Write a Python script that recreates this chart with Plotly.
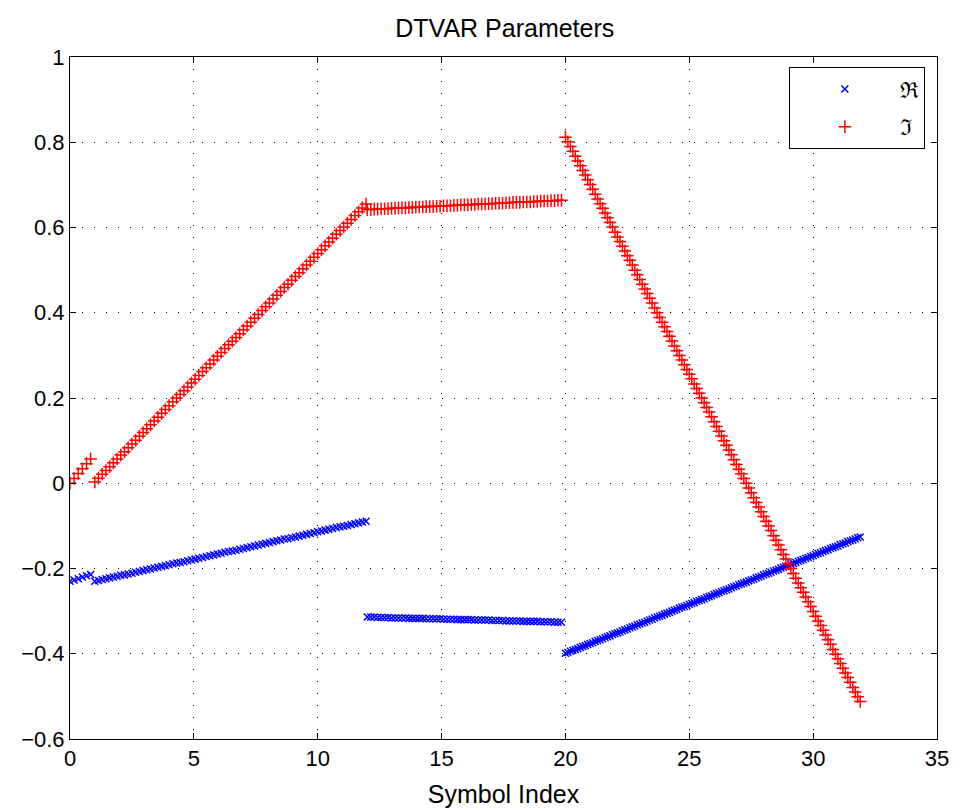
import plotly.graph_objects as go

# ---- data ----
x_seg_a = [0.0, 0.167, 0.333, 0.5, 0.667, 0.833]
x_seg_b = [1.00, 1.15, 1.30, 1.45, 1.60, 1.75, 1.90, 2.05, 2.20, 2.35, 2.50, 2.65, 2.80, 2.95,
           3.10, 3.25, 3.40, 3.55, 3.70, 3.85, 4.00, 4.15, 4.30, 4.45, 4.60, 4.75, 4.90, 5.05,
           5.20, 5.35, 5.50, 5.65, 5.80, 5.95, 6.10, 6.25, 6.40, 6.55, 6.70, 6.85, 7.00, 7.15,
           7.30, 7.45, 7.60, 7.75, 7.90, 8.05, 8.20, 8.35, 8.50, 8.65, 8.80, 8.95, 9.10, 9.25,
           9.40, 9.55, 9.70, 9.85, 10.00, 10.15, 10.30, 10.45, 10.60, 10.75, 10.90, 11.05,
           11.20, 11.35, 11.50, 11.65, 11.80, 11.95]
x_seg_c = [12.00, 12.14, 12.28, 12.42, 12.56, 12.70, 12.84, 12.98, 13.12, 13.26, 13.40, 13.54,
           13.68, 13.82, 13.96, 14.10, 14.24, 14.38, 14.52, 14.66, 14.80, 14.94, 15.08, 15.22,
           15.36, 15.50, 15.64, 15.78, 15.92, 16.06, 16.20, 16.34, 16.48, 16.62, 16.76, 16.90,
           17.04, 17.18, 17.32, 17.46, 17.60, 17.74, 17.88, 18.02, 18.16, 18.30, 18.44, 18.58,
           18.72, 18.86, 19.00, 19.14, 19.28, 19.42, 19.56, 19.70, 19.84]
x_seg_d = [20.0, 20.1, 20.2, 20.3, 20.4, 20.5, 20.6, 20.7, 20.8, 20.9,
           21.0, 21.1, 21.2, 21.3, 21.4, 21.5, 21.6, 21.7, 21.8, 21.9,
           22.0, 22.1, 22.2, 22.3, 22.4, 22.5, 22.6, 22.7, 22.8, 22.9,
           23.0, 23.1, 23.2, 23.3, 23.4, 23.5, 23.6, 23.7, 23.8, 23.9,
           24.0, 24.1, 24.2, 24.3, 24.4, 24.5, 24.6, 24.7, 24.8, 24.9,
           25.0, 25.1, 25.2, 25.3, 25.4, 25.5, 25.6, 25.7, 25.8, 25.9,
           26.0, 26.1, 26.2, 26.3, 26.4, 26.5, 26.6, 26.7, 26.8, 26.9,
           27.0, 27.1, 27.2, 27.3, 27.4, 27.5, 27.6, 27.7, 27.8, 27.9,
           28.0, 28.1, 28.2, 28.3, 28.4, 28.5, 28.6, 28.7, 28.8, 28.9,
           29.0, 29.1, 29.2, 29.3, 29.4, 29.5, 29.6, 29.7, 29.8, 29.9,
           30.0, 30.1, 30.2, 30.3, 30.4, 30.5, 30.6, 30.7, 30.8, 30.9,
           31.0, 31.1, 31.2, 31.3, 31.4, 31.5, 31.6, 31.7, 31.8, 31.9]

real_seg_a = [-0.230, -0.227, -0.224, -0.220, -0.217, -0.214]
real_seg_b = [-0.230, -0.228, -0.226, -0.224, -0.222, -0.220, -0.218, -0.216, -0.215, -0.213,
              -0.211, -0.209, -0.207, -0.205, -0.203, -0.201, -0.199, -0.197, -0.195, -0.193,
              -0.191, -0.189, -0.187, -0.186, -0.184, -0.182, -0.180, -0.178, -0.176, -0.174,
              -0.172, -0.170, -0.168, -0.166, -0.164, -0.162, -0.160, -0.159, -0.157, -0.155,
              -0.153, -0.151, -0.149, -0.147, -0.145, -0.143, -0.141, -0.139, -0.137, -0.135,
              -0.133, -0.131, -0.130, -0.128, -0.126, -0.124, -0.122, -0.120, -0.118, -0.116,
              -0.114, -0.112, -0.110, -0.108, -0.106, -0.104, -0.102, -0.101, -0.099, -0.097,
              -0.095, -0.093, -0.091, -0.089]
real_seg_c = [-0.314, -0.314, -0.314, -0.315, -0.315, -0.315, -0.315, -0.316, -0.316, -0.316,
              -0.316, -0.316, -0.317, -0.317, -0.317, -0.317, -0.317, -0.318, -0.318, -0.318,
              -0.318, -0.318, -0.319, -0.319, -0.319, -0.319, -0.320, -0.320, -0.320, -0.320,
              -0.320, -0.321, -0.321, -0.321, -0.321, -0.321, -0.322, -0.322, -0.322, -0.322,
              -0.323, -0.323, -0.323, -0.323, -0.323, -0.324, -0.324, -0.324, -0.324, -0.324,
              -0.325, -0.325, -0.325, -0.325, -0.326, -0.326, -0.326]
real_seg_d = [-0.399, -0.397, -0.394, -0.392, -0.390, -0.388, -0.385, -0.383, -0.381, -0.378,
              -0.376, -0.374, -0.371, -0.369, -0.367, -0.365, -0.362, -0.360, -0.358, -0.355,
              -0.353, -0.351, -0.349, -0.346, -0.344, -0.342, -0.339, -0.337, -0.335, -0.332,
              -0.330, -0.328, -0.326, -0.323, -0.321, -0.319, -0.316, -0.314, -0.312, -0.310,
              -0.307, -0.305, -0.303, -0.300, -0.298, -0.296, -0.293, -0.291, -0.289, -0.287,
              -0.284, -0.282, -0.280, -0.277, -0.275, -0.273, -0.271, -0.268, -0.266, -0.264,
              -0.261, -0.259, -0.257, -0.254, -0.252, -0.250, -0.248, -0.245, -0.243, -0.241,
              -0.238, -0.236, -0.234, -0.232, -0.229, -0.227, -0.225, -0.222, -0.220, -0.218,
              -0.215, -0.213, -0.211, -0.209, -0.206, -0.204, -0.202, -0.199, -0.197, -0.195,
              -0.193, -0.190, -0.188, -0.186, -0.183, -0.181, -0.179, -0.176, -0.174, -0.172,
              -0.170, -0.167, -0.165, -0.163, -0.160, -0.158, -0.156, -0.153, -0.151, -0.149,
              -0.147, -0.144, -0.142, -0.140, -0.137, -0.135, -0.133, -0.131, -0.128, -0.126]

imag_seg_a = [0.000, 0.011, 0.023, 0.034, 0.046, 0.057]
imag_seg_b = [0.003, 0.012, 0.021, 0.030, 0.039, 0.048, 0.057, 0.066, 0.074, 0.083,
              0.092, 0.101, 0.110, 0.119, 0.128, 0.137, 0.146, 0.155, 0.164, 0.173,
              0.182, 0.191, 0.200, 0.208, 0.217, 0.226, 0.235, 0.244, 0.253, 0.262,
              0.271, 0.280, 0.289, 0.298, 0.307, 0.316, 0.325, 0.333, 0.342, 0.351,
              0.360, 0.369, 0.378, 0.387, 0.396, 0.405, 0.414, 0.423, 0.432, 0.441,
              0.450, 0.459, 0.467, 0.476, 0.485, 0.494, 0.503, 0.512, 0.521, 0.530,
              0.539, 0.548, 0.557, 0.566, 0.575, 0.584, 0.593, 0.601, 0.610, 0.619,
              0.628, 0.637, 0.646, 0.655]
imag_seg_c = [0.642, 0.642, 0.643, 0.643, 0.644, 0.644, 0.644, 0.645, 0.645, 0.646,
              0.646, 0.646, 0.647, 0.647, 0.648, 0.648, 0.648, 0.649, 0.649, 0.649,
              0.650, 0.650, 0.651, 0.651, 0.651, 0.652, 0.652, 0.653, 0.653, 0.653,
              0.654, 0.654, 0.655, 0.655, 0.655, 0.656, 0.656, 0.657, 0.657, 0.657,
              0.658, 0.658, 0.659, 0.659, 0.659, 0.660, 0.660, 0.660, 0.661, 0.661,
              0.662, 0.662, 0.662, 0.663, 0.663, 0.664, 0.664]
imag_seg_d = [0.812, 0.801, 0.790, 0.779, 0.767, 0.756, 0.745, 0.734, 0.723, 0.712,
              0.701, 0.690, 0.678, 0.667, 0.656, 0.645, 0.634, 0.623, 0.612, 0.601,
              0.589, 0.578, 0.567, 0.556, 0.545, 0.534, 0.523, 0.512, 0.500, 0.489,
              0.478, 0.467, 0.456, 0.445, 0.434, 0.423, 0.411, 0.400, 0.389, 0.378,
              0.367, 0.356, 0.345, 0.334, 0.322, 0.311, 0.300, 0.289, 0.278, 0.267,
              0.256, 0.245, 0.233, 0.222, 0.211, 0.200, 0.189, 0.178, 0.167, 0.156,
              0.144, 0.133, 0.122, 0.111, 0.100, 0.089, 0.078, 0.067, 0.055, 0.044,
              0.033, 0.022, 0.011, 0.000, -0.011, -0.022, -0.034, -0.045, -0.056, -0.067,
              -0.078, -0.089, -0.100, -0.111, -0.123, -0.134, -0.145, -0.156, -0.167, -0.178,
              -0.189, -0.200, -0.212, -0.223, -0.234, -0.245, -0.256, -0.267, -0.278, -0.289,
              -0.301, -0.312, -0.323, -0.334, -0.345, -0.356, -0.367, -0.378, -0.390, -0.401,
              -0.412, -0.423, -0.434, -0.445, -0.456, -0.467, -0.479, -0.490, -0.501, -0.512]

x_ticks = [0, 5, 10, 15, 20, 25, 30, 35]
y_ticks = [-0.6, -0.4, -0.2, 0, 0.2, 0.4, 0.6, 0.8, 1]
series_names = ["\u211c", "\u2111"]

symbol_index = x_seg_a + x_seg_b + x_seg_c + x_seg_d
real_part = real_seg_a + real_seg_b + real_seg_c + real_seg_d
imag_part = imag_seg_a + imag_seg_b + imag_seg_c + imag_seg_d

FONT = "Liberation Sans, Arial, sans-serif"

fig = go.Figure()
fig.add_trace(go.Scatter(
    x=symbol_index, y=real_part, mode="markers", name=series_names[0],
    legendgroup="re",
    marker=dict(symbol="x-thin", size=7, color="#0000ff",
                line=dict(color="#0000ff", width=1.5)),
))
fig.add_trace(go.Scatter(
    x=symbol_index, y=imag_part, mode="markers", name=series_names[1],
    legendgroup="im",
    marker=dict(symbol="cross-thin", size=9, color="#ff0000",
                line=dict(color="#ff0000", width=1.5)),
))

axis_common = dict(
    showline=True, linecolor="black", linewidth=1, mirror="ticks",
    ticks="inside", ticklen=6, tickwidth=1, tickcolor="black",
    showgrid=True, gridcolor="black", gridwidth=1, griddash="1px,11px",
    zeroline=False, automargin=False,
    tickfont=dict(family=FONT, size=22, color="black"),
)

fig.update_layout(
    width=956, height=808,
    margin=dict(l=70, r=19, t=57, b=69),
    paper_bgcolor="white", plot_bgcolor="white",
    title=dict(text="DTVAR Parameters", x=0.528, xanchor="center",
               y=1 - 28 / 808, yanchor="middle", yref="container",
               automargin=False,
               font=dict(family=FONT, size=25, color="black")),
    xaxis=dict(range=[0, 35], tickvals=x_ticks, **axis_common,
               title=dict(text="Symbol Index", standoff=16,
                          font=dict(family=FONT, size=25, color="black"))),
    yaxis=dict(range=[-0.6, 1], tickvals=y_ticks, **axis_common),
    showlegend=True,
    legend=dict(x=0.986, y=0.985, xanchor="right", yanchor="top",
                bgcolor="white", bordercolor="black", borderwidth=1,
                font=dict(family="DejaVu Serif, serif", size=22, color="black"),
                itemwidth=100, tracegroupgap=6, traceorder="grouped"),
)

fig.write_html("out.html", config={"displayModeBar": False},
               post_script="document.body.style.margin='0';document.body.style.padding='0';")
